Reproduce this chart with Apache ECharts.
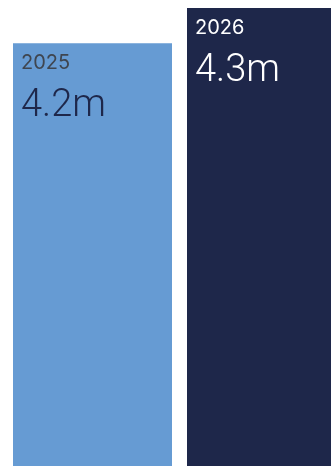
<!DOCTYPE html>
<html>
<head>
<meta charset="utf-8">
<script src="https://cdn.jsdelivr.net/npm/echarts@6/dist/echarts.min.js"></script>
<style>
html,body{margin:0;padding:0;background:#fff;}
#chart{width:331px;height:466px;}
</style>
</head>
<body>
<div id="chart"></div>
<script>
const categories = ['2025', '2026'];
const values = [4.2, 4.3];
const valueLabels = ['4.2m', '4.3m'];
const barColors = ['#669bd3', '#1e274a'];
const yearColors = ['#3f4650', '#ffffff'];
const valueColors = ['#1e274a', '#ffffff'];

const chart = echarts.init(document.getElementById('chart'), null, {renderer: 'canvas'});
chart.setOption({
  animation: false,
  grid: {left: 5.5, width: 348, top: 8, bottom: 0, containLabel: false, outerBoundsMode: 'none'},
  xAxis: {type: 'category', data: categories, show: false},
  yAxis: {type: 'value', min: 3, max: 4.3, show: false},
  series: [{
    type: 'bar',
    barWidth: 159,
    data: values.map((v, i) => ({
      value: v,
      itemStyle: {color: barColors[i]},
      label: {
        show: true,
        position: [8, 8],
        formatter: '{y|' + categories[i] + '}\n{v|' + valueLabels[i] + '}',
        rich: {
          y: {fontFamily: 'Inter', fontWeight: 400, fontSize: 20, lineHeight: 24, color: yearColors[i]},
          v: {fontFamily: 'Roboto', fontWeight: 300, fontSize: 38, lineHeight: 62, color: valueColors[i]}
        }
      }
    }))
  }]
});
</script>
</body>
</html>
